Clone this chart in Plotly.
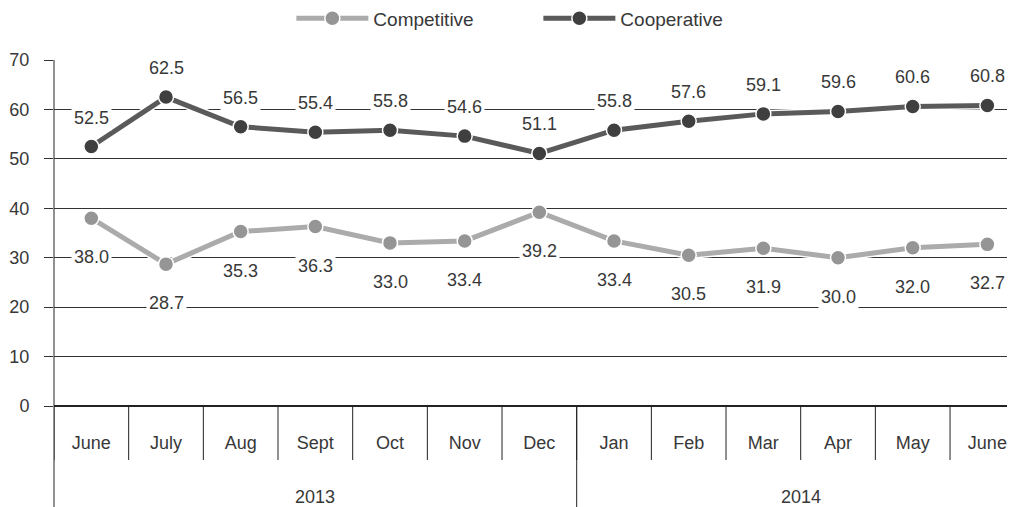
import plotly.graph_objects as go

months = ["June", "July", "Aug", "Sept", "Oct", "Nov", "Dec",
          "Jan", "Feb", "Mar", "Apr", "May", "June"]
years = ["2013", "2014"]
year_counts = [7, 6]
competitive = [38.0, 28.7, 35.3, 36.3, 33.0, 33.4, 39.2, 33.4, 30.5, 31.9, 30.0, 32.0, 32.7]
cooperative = [52.5, 62.5, 56.5, 55.4, 55.8, 54.6, 51.1, 55.8, 57.6, 59.1, 59.6, 60.6, 60.8]
y_ticks = [0, 10, 20, 30, 40, 50, 60, 70]

FONT = "Liberation Sans, Arial, sans-serif"
TXT = "#383838"
FS = 18
x = list(range(len(months)))

fig = go.Figure()
# white halos under lines
for vals in (competitive, cooperative):
    fig.add_trace(go.Scatter(x=x, y=vals, mode="lines", line=dict(color="white", width=8),
                             showlegend=False, hoverinfo="skip"))
fig.add_trace(go.Scatter(x=x, y=competitive, mode="lines+markers", name="Competitive",
                         line=dict(color="#ababab", width=5),
                         marker=dict(size=15, color="#959595", line=dict(color="white", width=1.5))))
fig.add_trace(go.Scatter(x=x, y=cooperative, mode="lines+markers", name="Cooperative",
                         line=dict(color="#5a5a5a", width=5),
                         marker=dict(size=15, color="#3f3f3f", line=dict(color="white", width=1.5))))

ann = []
for i, v in enumerate(cooperative):
    ann.append(dict(x=i, y=v, text=f"{v:.1f}", showarrow=False, yshift=29, bgcolor="white",
                    font=dict(family=FONT, size=FS, color=TXT), borderpad=2))
for i, v in enumerate(competitive):
    ann.append(dict(x=i, y=v, text=f"{v:.1f}", showarrow=False, yshift=-39, bgcolor="white",
                    font=dict(family=FONT, size=FS, color=TXT), borderpad=2))

shapes = []
# month dividers
for i in range(len(months)):
    shapes.append(dict(type="line", xref="x", yref="paper", x0=i - 0.5, x1=i - 0.5,
                       y0=0, y1=-0.156, line=dict(color="#222222", width=1)))
# year dividers and labels
start = 0
for yr, n in zip(years, year_counts):
    x0 = start - 0.5
    if start > 0:
        shapes.append(dict(type="line", xref="x", yref="paper", x0=x0, x1=x0,
                           y0=0, y1=-0.3, line=dict(color="#222222", width=1)))
    ann.append(dict(x=start + (n - 1) / 2, y=-0.263, xref="x", yref="paper", text=yr,
                    showarrow=False, yanchor="middle", font=dict(family=FONT, size=FS, color=TXT)))
    start += n
# left axis extending down
shapes.append(dict(type="line", xref="paper", yref="paper", x0=0, x1=0, y0=1, y1=-0.3,
                   line=dict(color="#222222", width=1)))

fig.update_layout(
    width=1007, height=499,
    margin=dict(l=46, r=0, t=52, b=101, autoexpand=False),
    paper_bgcolor="white", plot_bgcolor="white",
    font=dict(family=FONT, size=FS, color=TXT),
    showlegend=True,
    legend=dict(orientation="h", x=0.247, xanchor="left", y=1.12, yanchor="middle",
                font=dict(family=FONT, size=19, color=TXT), itemwidth=72,
                entrywidth=160, entrywidthmode="pixels"),
    xaxis=dict(range=[-0.5, 12.37], tickmode="array", tickvals=x, ticktext=months,
               showgrid=False, zeroline=False, showline=False, ticks="", ticklabelstandoff=24,
               tickfont=dict(family=FONT, size=FS, color=TXT), fixedrange=True, automargin=False),
    yaxis=dict(range=[0, 70], tickmode="array", tickvals=y_ticks, showgrid=True,
               gridcolor="#333333", gridwidth=1, zeroline=True, zerolinecolor="#222222",
               showline=False, ticks="outside", ticklen=9, tickcolor="#333333",
               ticklabelstandoff=11,
               tickfont=dict(family=FONT, size=FS, color=TXT), fixedrange=True, automargin=False),
    annotations=ann, shapes=shapes,
)
fig.write_html("out.html")
